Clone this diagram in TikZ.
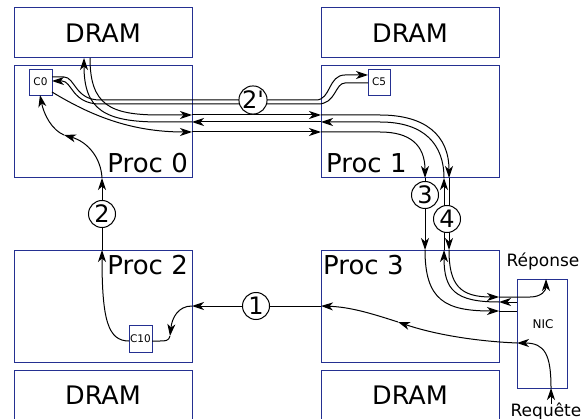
\documentclass[tikz,border=0pt]{standalone}
\usepackage{fontspec}
\setmainfont{DejaVu Sans}[Ligatures=TeXOff]
\usetikzlibrary{arrows.meta}
\definecolor{boxblue}{RGB}{36,48,145}
\begin{document}
\begin{tikzpicture}[x=1pt,y=-1pt]
\tikzset{
  blk/.style={draw=boxblue, line width=1pt, anchor=north west, minimum width=178pt, minimum height=50pt, inner sep=0pt, outer sep=0pt, font=\fontsize{25.5}{30}\selectfont},
  procbox/.style={blk, minimum height=112pt},
  core/.style={draw=boxblue, line width=0.9pt, anchor=north west, minimum width=23pt, minimum height=26pt, inner sep=0pt, outer sep=0pt, font=\fontsize{10.5}{12}\selectfont},
  proclab/.style={inner sep=0pt, font=\fontsize{26}{30}\selectfont},
  num/.style={circle, draw=black, fill=white, line width=1pt, minimum size=27pt, inner sep=0pt, font=\fontsize{24}{26}\selectfont},
  wire/.style={line width=1pt},
  arr/.style={wire, -{Stealth[length=12pt,width=8pt,inset=3.5pt]}},
  side/.style={inner sep=0pt, font=\fontsize{17}{20}\selectfont},
}
\useasboundingbox (0,0) rectangle (585,419);

% boxes
\node[blk] (d0) at (14,8) {DRAM};
\node[blk] (d1) at (321,8) {DRAM};
\node[procbox] (p0) at (14,66) {};
\node[procbox] (p1) at (321,66) {};
\node[procbox] (p2) at (14,250) {};
\node[procbox] (p3) at (321,250) {};
\node[blk] (d2) at (14,370) {DRAM};
\node[blk] (d3) at (321,370) {DRAM};
\node[draw=boxblue, line width=1pt, anchor=north west, minimum width=50pt, minimum height=109pt, inner sep=0pt, outer sep=0pt] (nic) at (517,279) {};
\node[inner sep=0pt, font=\fontsize{12}{14}\selectfont] (niclab) at (543,324) {NIC};

\node[core] (c0) at (29,69) {C0};
\node[core, minimum width=22pt] (c5) at (368,69) {C5};
\node[core, minimum height=27pt] (c10) at (129,325) {C10};

\node[proclab, anchor=south east] (l0) at (188,173) {Proc 0};
\node[proclab, anchor=south west] (l1) at (326,173) {Proc 1};
\node[proclab, anchor=north east] (l2) at (188,255) {Proc 2};
\node[proclab, anchor=north west] (l3) at (323,255) {Proc 3};
\node[side, anchor=base] (rep) at (543,266) {Réponse};
\node[side, anchor=base] (req) at (546,416) {Requête};

% named points
\coordinate (a1) at (52,77);   \coordinate (a2) at (368,75);
\coordinate (b1) at (368,83);  \coordinate (b2) at (52,81);
\coordinate (r0) at (90,58);   \coordinate (r1) at (192,115);
\coordinate (r2) at (321,115); \coordinate (r3) at (449,178);
\coordinate (r4) at (449,250); \coordinate (r5) at (499,297);
\coordinate (r6) at (546,279);
\coordinate (q0) at (517,302); \coordinate (q1) at (499,302);
\coordinate (q2) at (444,250); \coordinate (q3) at (444,178);
\coordinate (q4) at (321,122); \coordinate (q5) at (192,122);
\coordinate (q6) at (84,58);
\coordinate (s0) at (52,92);   \coordinate (s1) at (192,132);
\coordinate (s2) at (321,132); \coordinate (s3) at (425,178);
\coordinate (s4) at (425,250); \coordinate (s5) at (499,311);
\coordinate (s6) at (517,311);
\coordinate (t0) at (551,404); \coordinate (t1) at (551,388);
\coordinate (t2) at (517,343); \coordinate (t3) at (398,322);
\coordinate (t4) at (321,306); \coordinate (t5) at (192,306);
\coordinate (t6) at (170,336); \coordinate (t7) at (152,341);
\coordinate (u0) at (129,341); \coordinate (u1) at (102,250);
\coordinate (u2) at (102,178); \coordinate (u3) at (64,135);
\coordinate (u4) at (40,95);

% 2' : C0 <-> C5
\draw[arr] (a1) -- (64,77) .. controls (75,77) and (75,100) .. (100,100) -- (316,100) .. controls (331,100) and (328,75) .. (345,75) -- (a2);
\draw[arr] (b1) -- (345,83) .. controls (335,83) and (336,104) .. (318,104) -- (100,104) .. controls (72,104) and (72,81) .. (62,81) -- (b2);

% 4 : DRAM -> Reponse
\draw[arr] (r0) .. controls (90,105) and (110,115) .. (160,115) -- (r1);
\draw[arr] (r1) -- (r2);
\draw[arr] (r2) -- (380,115) .. controls (425,115) and (449,135) .. (r3);
\draw[arr] (r3) -- (r4);
\draw[arr] (r4) .. controls (449,285) and (460,297) .. (r5);
\draw[arr] (r5) -- (530,297) .. controls (542,297) and (546,290) .. (r6);

% 4 : NIC -> DRAM
\draw[arr] (q0) -- (q1);
\draw[arr] (q1) .. controls (455,302) and (444,290) .. (q2);
\draw[arr] (q2) -- (q3);
\draw[arr] (q3) .. controls (444,145) and (425,122) .. (380,122) -- (q4);
\draw[arr] (q4) -- (q5);
\draw[arr] (q5) -- (160,122) .. controls (105,122) and (84,110) .. (q6);

% 3 : C0 -> NIC
\draw[arr] (s0) .. controls (90,115) and (130,132) .. (s1);
\draw[arr] (s1) -- (s2);
\draw[arr] (s2) -- (380,132) .. controls (410,132) and (425,145) .. (s3);
\draw[arr] (s3) -- (s4);
\draw[arr] (s4) .. controls (425,300) and (445,311) .. (s5);
\draw[wire] (s5) -- (s6);

% 1 : Requete -> C10
\draw[arr] (t0) -- (t1);
\draw[arr] (t1) .. controls (551,355) and (545,343) .. (t2);
\draw[arr] (t2) .. controls (470,341) and (430,333) .. (t3);
\draw[arr] (t3) .. controls (370,313) and (350,307) .. (t4);
\draw[arr] (t4) -- (t5);
\draw[arr] (t5) .. controls (178,306) and (172,318) .. (t6);
\draw[wire] (t6) .. controls (169,341) and (165,341) .. (160,341) -- (t7);

% 2 : C10 -> C0
\draw[arr] (u0) .. controls (108,341) and (102,320) .. (u1);
\draw[arr] (u1) -- (u2);
\draw[arr] (u2) .. controls (101,158) and (88,142) .. (u3);
\draw[arr] (u3) .. controls (52,130) and (44,115) .. (u4);

% step numbers
\node[num] (n2p) at (253,100) {2'};
\node[num] (n1) at (256,306) {1};
\node[num] (n2) at (102,214) {2};
\node[num] (n3) at (425,195) {3};
\node[num] (n4) at (447,219) {4};
\end{tikzpicture}
\end{document}
